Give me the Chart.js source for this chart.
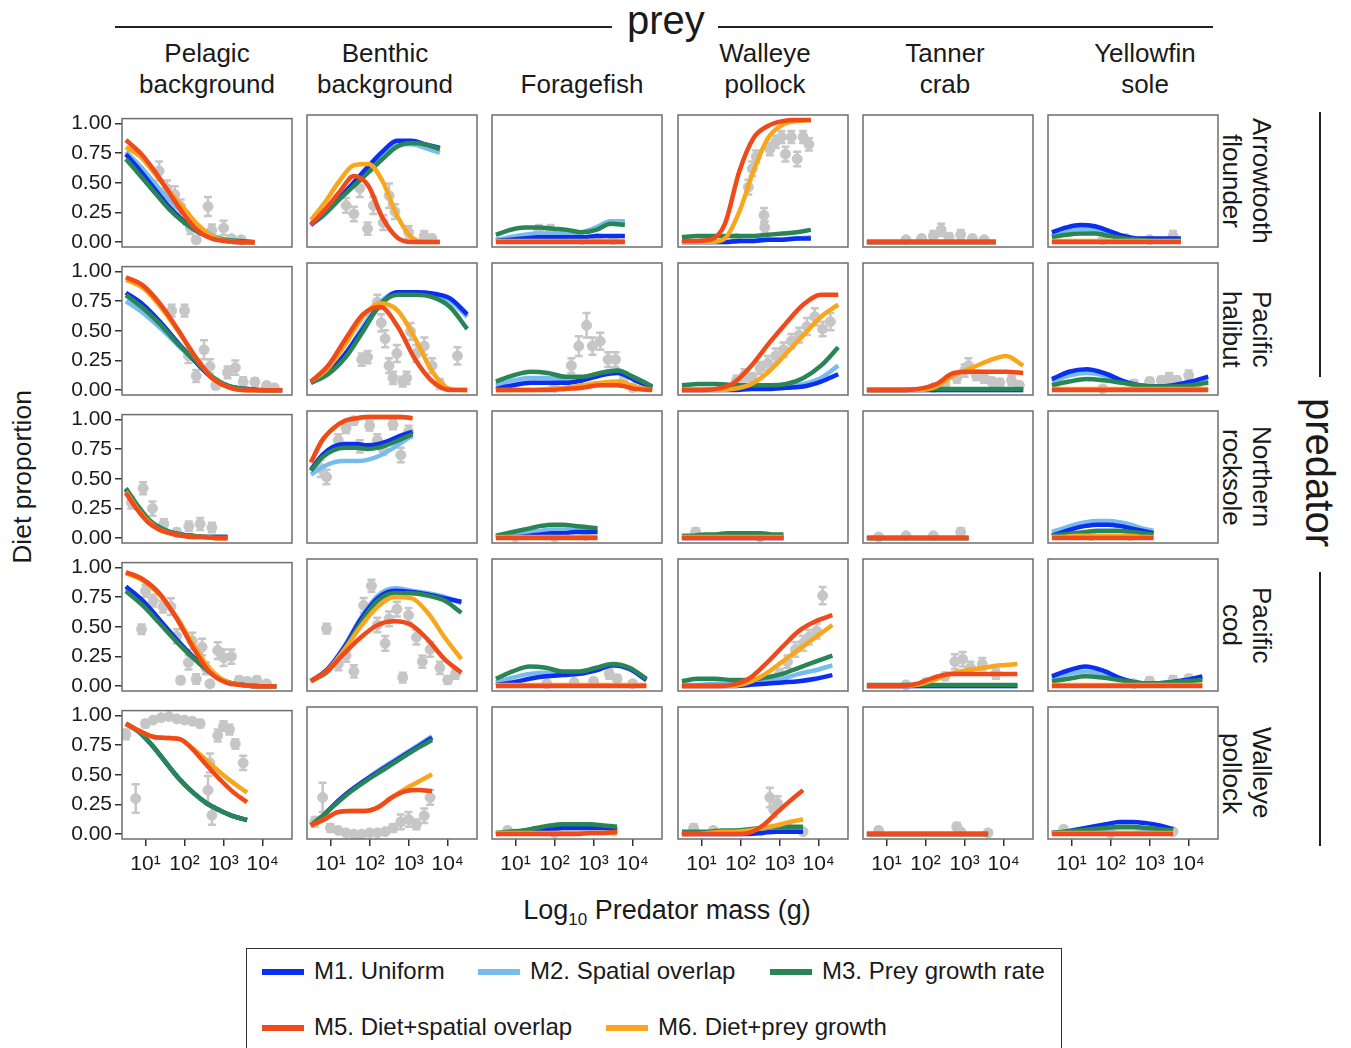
<!DOCTYPE html>
<html>
<head>
<meta charset="utf-8">
<script src="https://cdn.jsdelivr.net/npm/chart.js@4.4.1/dist/chart.umd.min.js"></script>
<style>
body { margin: 0; background: #fff; font-family: "Liberation Sans", Arial, sans-serif; color: #1a1a1a; }
#page { position: relative; width: 1351px; height: 1048px; overflow: hidden; }
.panel { position: absolute; }
.coltitle { position: absolute; top: 34px; height: 66px; width: 220px; display: flex; flex-direction: column; justify-content: flex-end; align-items: center; font-size: 26px; line-height: 31px; }
.rowtitle { position: absolute; writing-mode: vertical-rl; text-align: center; font-size: 26px; line-height: 30px; width: 60px; height: 132px; }
.hline { position: absolute; height: 2px; background: #222; }
.vline { position: absolute; width: 2px; background: #222; }
.big { position: absolute; font-size: 40px; line-height: 40px; }
.legend { position: absolute; left: 246px; top: 948px; width: 814px; height: 120px; border: 1.5px solid #333; }
.lg { position: absolute; font-size: 24px; line-height: 26px; white-space: nowrap; }
.sw { position: absolute; width: 42px; height: 6px; }
</style>
</head>
<body>
<div id="page"></div>
<script>
// facet names
var preyNames = [['Pelagic', 'background'], ['Benthic', 'background'], ['Foragefish'], ['Walleye', 'pollock'], ['Tanner', 'crab'], ['Yellowfin', 'sole']];
var predatorNames = [['Arrowtooth', 'flounder'], ['Pacific', 'halibut'], ['Northern', 'rocksole'], ['Pacific', 'cod'], ['Walleye', 'pollock']];

// log10 predator mass at which the model curves are read, one grid per predator
var massGrid = [
    [0.5, 0.87, 1.23, 1.6, 1.97, 2.33, 2.7, 3.07, 3.43, 3.8],
    [0.5, 0.94, 1.39, 1.83, 2.28, 2.72, 3.17, 3.61, 4.06, 4.5],
    [0.5, 0.79, 1.08, 1.37, 1.66, 1.94, 2.23, 2.52, 2.81, 3.1],
    [0.5, 0.93, 1.36, 1.78, 2.21, 2.64, 3.07, 3.49, 3.92, 4.35],
    [0.5, 0.84, 1.19, 1.53, 1.88, 2.22, 2.57, 2.91, 3.26, 3.6]
];

var xTickValues = [1, 2, 3, 4];
var xTickLabels = ['10¹', '10²', '10³', '10⁴'];
var yTickValues = [0, 0.25, 0.5, 0.75, 1];

var Z = [0, 0, 0, 0, 0, 0, 0, 0, 0, 0];
var L = [0.01, 0.01, 0.01, 0.01, 0.01, 0.01, 0.01, 0.01, 0.01, 0.01];

// M1. Uniform  [predator][prey]
var m1Uniform = [
    [[0.74,0.6,0.45,0.3,0.18,0.09,0.04,0.01,0,0], [0.14,0.24,0.36,0.49,0.62,0.74,0.83,0.83,0.8,0.77], [0.01,0.02,0.03,0.04,0.04,0.04,0.04,0.05,0.05,0.05], [0,0,0,0,0.01,0.01,0.02,0.02,0.03,0.03], Z, [0.08,0.12,0.14,0.13,0.09,0.05,0.03,0.03,0.03,0.03]],
    [[0.82,0.72,0.57,0.4,0.24,0.1,0.03,0.01,0,0], [0.06,0.14,0.3,0.5,0.7,0.8,0.8,0.79,0.75,0.62], [0.01,0.04,0.06,0.06,0.06,0.08,0.12,0.14,0.08,0.02], [0,0,0,0,0.01,0.01,0.02,0.03,0.07,0.13], Z, [0.09,0.15,0.17,0.14,0.08,0.04,0.03,0.04,0.07,0.11]],
    [[0.41,0.27,0.15,0.08,0.05,0.03,0.02,0.01,0.01,0.01], [0.56,0.68,0.75,0.77,0.77,0.76,0.77,0.8,0.84,0.87], [0,0.01,0.01,0.02,0.03,0.04,0.04,0.05,0.05,0.05], Z, Z, [0.02,0.05,0.08,0.1,0.11,0.11,0.1,0.08,0.06,0.04]],
    [[0.84,0.72,0.56,0.4,0.25,0.12,0.04,0.01,0,0], [0.04,0.14,0.32,0.55,0.72,0.78,0.77,0.75,0.72,0.69], [0.01,0.03,0.06,0.08,0.09,0.1,0.13,0.17,0.14,0.05], [0,0,0,0,0.01,0.02,0.03,0.04,0.06,0.09], Z, [0.08,0.13,0.16,0.13,0.07,0.03,0.02,0.03,0.05,0.08]],
    [[0.93,0.86,0.74,0.6,0.46,0.35,0.26,0.2,0.15,0.12], [0.07,0.16,0.27,0.36,0.44,0.51,0.58,0.65,0.72,0.79], [0,0.01,0.02,0.03,0.04,0.05,0.05,0.05,0.05,0.04], [0,0,0,0,0,0,0.01,0.02,0.02,0.02], Z, [0.01,0.02,0.04,0.06,0.08,0.1,0.1,0.09,0.07,0.04]]
];

// M2. Spatial overlap
var m2Spatial = [
    [[0.76,0.64,0.5,0.36,0.24,0.14,0.06,0.02,0.01,0], [0.14,0.23,0.35,0.48,0.61,0.72,0.8,0.8,0.77,0.73], [0.02,0.04,0.06,0.07,0.07,0.07,0.08,0.12,0.17,0.17], [0,0,0,0,0.01,0.01,0.02,0.02,0.03,0.04], Z, [0.05,0.09,0.11,0.1,0.07,0.04,0.02,0.02,0.02,0.02]],
    [[0.75,0.65,0.52,0.38,0.24,0.1,0.03,0.01,0,0], [0.06,0.14,0.3,0.52,0.72,0.8,0.8,0.78,0.73,0.6], [0.04,0.08,0.1,0.1,0.09,0.1,0.14,0.16,0.1,0.03], [0,0,0.01,0.01,0.02,0.02,0.03,0.05,0.1,0.2], Z, [0.07,0.12,0.14,0.12,0.07,0.04,0.03,0.03,0.05,0.08]],
    [[0.41,0.27,0.15,0.08,0.05,0.03,0.02,0.01,0.01,0.01], [0.52,0.58,0.62,0.63,0.63,0.64,0.67,0.72,0.78,0.84], [0.01,0.02,0.03,0.05,0.06,0.07,0.07,0.07,0.07,0.06], L, Z, [0.05,0.08,0.11,0.13,0.14,0.14,0.13,0.11,0.08,0.06]],
    [[0.82,0.7,0.55,0.4,0.25,0.12,0.04,0.01,0,0], [0.04,0.14,0.33,0.56,0.74,0.8,0.78,0.76,0.73,0.68], [0.03,0.07,0.1,0.11,0.11,0.11,0.14,0.17,0.14,0.06], [0.01,0.01,0.02,0.02,0.03,0.04,0.06,0.1,0.13,0.17], Z, [0.06,0.1,0.12,0.1,0.06,0.03,0.02,0.03,0.04,0.06]],
    [[0.93,0.86,0.74,0.6,0.46,0.35,0.26,0.2,0.15,0.12], [0.07,0.16,0.27,0.36,0.44,0.52,0.59,0.66,0.73,0.8], [0.01,0.01,0.02,0.03,0.04,0.05,0.05,0.05,0.05,0.04], [0.01,0.01,0.01,0.01,0.02,0.02,0.03,0.04,0.04,0.04], Z, [0.01,0.01,0.02,0.03,0.04,0.05,0.05,0.04,0.03,0.02]]
];

// M3. Prey growth rate
var m3Growth = [
    [[0.7,0.56,0.42,0.28,0.17,0.09,0.04,0.02,0.01,0], [0.15,0.24,0.35,0.46,0.57,0.68,0.78,0.81,0.8,0.76], [0.06,0.1,0.12,0.12,0.11,0.1,0.08,0.1,0.15,0.14], [0.04,0.05,0.05,0.05,0.05,0.05,0.06,0.07,0.08,0.1], Z, [0.04,0.06,0.07,0.07,0.05,0.03,0.02,0.01,0.01,0.01]],
    [[0.8,0.69,0.55,0.39,0.25,0.11,0.03,0.01,0,0], [0.06,0.13,0.27,0.48,0.7,0.78,0.78,0.76,0.68,0.5], [0.07,0.12,0.15,0.14,0.11,0.11,0.14,0.16,0.1,0.03], [0.04,0.05,0.05,0.04,0.04,0.04,0.05,0.1,0.2,0.35], [0,0,0,0.01,0.01,0.01,0.01,0.01,0.01,0.01], [0.04,0.07,0.09,0.08,0.06,0.04,0.03,0.03,0.04,0.06]],
    [[0.42,0.28,0.16,0.09,0.05,0.03,0.02,0.01,0.01,0.01], [0.55,0.66,0.72,0.74,0.74,0.73,0.74,0.77,0.81,0.85], [0.02,0.04,0.06,0.08,0.1,0.11,0.11,0.1,0.09,0.08], [0.02,0.02,0.03,0.03,0.04,0.04,0.04,0.04,0.03,0.03], Z, [0.02,0.03,0.04,0.05,0.06,0.06,0.06,0.05,0.04,0.03]],
    [[0.8,0.68,0.53,0.38,0.24,0.12,0.04,0.01,0,0], [0.04,0.12,0.3,0.52,0.7,0.76,0.76,0.74,0.7,0.6], [0.06,0.12,0.16,0.15,0.12,0.12,0.15,0.18,0.15,0.06], [0.04,0.06,0.06,0.05,0.05,0.07,0.1,0.15,0.2,0.25], L, [0.04,0.06,0.08,0.07,0.05,0.03,0.02,0.03,0.04,0.05]],
    [[0.93,0.86,0.74,0.6,0.46,0.35,0.26,0.2,0.15,0.12], [0.07,0.16,0.26,0.35,0.43,0.5,0.57,0.64,0.71,0.77], [0.01,0.02,0.03,0.05,0.07,0.08,0.08,0.08,0.07,0.06], [0.02,0.02,0.02,0.03,0.03,0.04,0.05,0.06,0.06,0.06], Z, [0.01,0.02,0.03,0.04,0.05,0.06,0.06,0.05,0.04,0.03]]
];

// M5. Diet+spatial overlap
var m5DietSpatial = [
    [[0.86,0.75,0.6,0.42,0.24,0.1,0.03,0.01,0,0], [0.14,0.27,0.41,0.54,0.46,0.2,0.04,0,0,0], Z, [0.01,0.01,0.02,0.15,0.58,0.85,0.95,0.99,1.0,1.0], Z, Z],
    [[0.95,0.88,0.72,0.51,0.28,0.1,0.02,0,0,0], [0.07,0.2,0.42,0.62,0.68,0.52,0.25,0.07,0,0], [0,0,0,0,0.01,0.02,0.04,0.04,0.01,0], [0,0,0.01,0.06,0.2,0.38,0.55,0.7,0.78,0.78], [0,0,0,0.01,0.05,0.14,0.15,0.15,0.15,0.14], Z],
    [[0.38,0.24,0.13,0.07,0.04,0.02,0.01,0.01,0,0], [0.62,0.8,0.9,0.96,0.98,0.99,0.99,0.99,0.99,0.98], Z, Z, Z, Z],
    [[0.96,0.9,0.78,0.58,0.33,0.12,0.03,0.01,0,0], [0.04,0.13,0.27,0.4,0.5,0.53,0.5,0.38,0.22,0.11], Z, [0,0,0,0.01,0.06,0.18,0.32,0.45,0.53,0.58], [0,0,0,0.02,0.07,0.1,0.1,0.1,0.1,0.1], Z],
    [[0.93,0.87,0.82,0.81,0.8,0.71,0.58,0.46,0.35,0.27], [0.07,0.12,0.18,0.19,0.19,0.22,0.3,0.35,0.36,0.35], [0,0,0,0,0,0,0,0.01,0.01,0.02], [0,0,0,0,0,0.01,0.07,0.17,0.27,0.36], Z, Z]
];

// M6. Diet+prey growth
var m6DietGrowth = [
    [[0.8,0.72,0.58,0.43,0.29,0.15,0.05,0.01,0,0], [0.18,0.33,0.5,0.63,0.64,0.5,0.22,0.04,0,0], L, [0,0,0,0.03,0.25,0.58,0.85,0.96,0.99,1.0], Z, L],
    [[0.93,0.86,0.7,0.5,0.28,0.1,0.02,0,0,0], [0.07,0.18,0.38,0.6,0.71,0.65,0.42,0.15,0.01,0], [0,0,0,0.01,0.02,0.04,0.06,0.07,0.03,0], [0,0,0,0.01,0.05,0.15,0.3,0.45,0.6,0.7], [0,0,0,0,0.03,0.12,0.18,0.24,0.28,0.2], L],
    [[0.39,0.25,0.14,0.07,0.04,0.02,0.01,0.01,0,0], [0.62,0.8,0.9,0.96,0.98,0.99,0.99,0.99,0.99,0.98], L, L, Z, [0.01,0.01,0.02,0.02,0.02,0.02,0.02,0.02,0.01,0.01]],
    [[0.95,0.89,0.77,0.59,0.36,0.15,0.04,0.01,0,0], [0.04,0.13,0.3,0.49,0.65,0.73,0.72,0.6,0.4,0.22], L, [0,0,0,0,0.03,0.1,0.2,0.3,0.4,0.5], [0,0,0,0.01,0.05,0.1,0.13,0.15,0.17,0.18], L],
    [[0.93,0.87,0.82,0.81,0.8,0.72,0.62,0.52,0.43,0.35], [0.07,0.12,0.18,0.19,0.19,0.22,0.3,0.37,0.43,0.49], L, [0,0,0.01,0.02,0.02,0.03,0.05,0.07,0.1,0.12], Z, L]
];

// observed diet proportions: [log10 mass, proportion, error]
var observed = [
    [
        [[1.35,0.6,0.08],[1.55,0.45,0.07],[1.75,0.4,0.07],[1.9,0.3,0.06],[2.05,0.2,0.05],[2.15,0.12,0.05],[2.3,0.02,0.03],[2.6,0.3,0.08],[2.7,0.1,0.05],[3.0,0.12,0.06],[3.2,0.03,0.02],[3.45,0.02,0.02]],
        [[1.4,0.3,0.06],[1.6,0.23,0.06],[1.75,0.44,0.07],[1.95,0.11,0.05],[2.1,0.3,0.07],[2.35,0.16,0.06],[2.5,0.38,0.1],[2.65,0.25,0.06],[3.0,0.08,0.05],[3.4,0.05,0.04],[3.6,0.03,0.02]],
        [[1.6,0.1,0.04],[1.9,0.1,0.04],[2.3,0.03,0.02],[2.7,0.02,0.02],[3.1,0.03,0.02],[3.5,0.02,0.02]],
        [[1.9,0.03,0.02],[2.2,0.45,0.06],[2.3,0.6,0.06],[2.4,0.7,0.05],[2.6,0.22,0.06],[2.62,0.12,0.05],[2.75,0.76,0.05],[2.9,0.82,0.05],[3.05,0.86,0.05],[3.15,0.72,0.06],[3.3,0.86,0.05],[3.45,0.68,0.06],[3.6,0.86,0.05],[3.75,0.8,0.05]],
        [[1.5,0.02,0.02],[1.9,0.03,0.02],[2.2,0.05,0.04],[2.4,0.1,0.05],[2.6,0.04,0.03],[2.9,0.06,0.04],[3.2,0.03,0.02],[3.5,0.02,0.02]],
        [[1.8,0.02,0.02],[2.4,0.03,0.02],[3.0,0.02,0.02],[3.6,0.05,0.04]]
    ],
    [
        [[1.67,0.67,0.05],[2.0,0.67,0.05],[2.1,0.29,0.06],[2.3,0.12,0.05],[2.5,0.34,0.08],[2.65,0.2,0.06],[2.8,0.04,0.03],[3.1,0.15,0.05],[3.3,0.19,0.06],[3.5,0.07,0.04],[3.8,0.07,0.03],[4.1,0.04,0.02],[4.3,0.02,0.02]],
        [[1.8,0.25,0.05],[1.95,0.27,0.05],[2.2,0.72,0.06],[2.3,0.55,0.07],[2.4,0.42,0.07],[2.5,0.2,0.06],[2.6,0.1,0.05],[2.7,0.3,0.07],[2.85,0.07,0.04],[2.95,0.1,0.05],[3.05,0.48,0.07],[3.2,0.3,0.07],[3.4,0.36,0.07],[3.6,0.2,0.06],[3.8,0.05,0.04],[4.25,0.28,0.07]],
        [[2.0,0.02,0.02],[2.43,0.2,0.06],[2.62,0.36,0.08],[2.82,0.53,0.1],[2.97,0.36,0.07],[3.17,0.4,0.07],[3.37,0.25,0.06],[3.56,0.25,0.06],[3.76,0.07,0.04],[4.0,0.02,0.02]],
        [[1.9,0.08,0.04],[2.1,0.12,0.05],[2.3,0.1,0.04],[2.5,0.18,0.05],[2.7,0.22,0.06],[2.9,0.28,0.06],[3.1,0.33,0.06],[3.3,0.4,0.06],[3.5,0.45,0.06],[3.7,0.52,0.07],[3.9,0.6,0.07],[4.1,0.5,0.06],[4.3,0.56,0.07]],
        [[2.2,0.02,0.02],[2.5,0.05,0.03],[2.8,0.1,0.04],[3.0,0.16,0.05],[3.1,0.2,0.06],[3.3,0.12,0.04],[3.5,0.1,0.04],[3.7,0.07,0.03],[3.9,0.06,0.03],[4.2,0.08,0.04],[4.4,0.04,0.02]],
        [[1.8,0.01,0.01],[2.6,0.05,0.03],[3.0,0.07,0.03],[3.3,0.08,0.03],[3.5,0.1,0.04],[3.7,0.08,0.03],[4.0,0.12,0.04],[4.2,0.05,0.03]]
    ],
    [
        [[0.64,0.3,0.05],[0.94,0.42,0.05],[1.18,0.25,0.06],[1.47,0.12,0.04],[1.8,0.05,0.03],[2.11,0.1,0.04],[2.4,0.12,0.05],[2.7,0.09,0.04]],
        [[0.75,0.57,0.07],[0.9,0.5,0.06],[1.2,0.8,0.05],[1.4,0.9,0.04],[1.6,0.96,0.03],[1.75,0.75,0.05],[2.0,0.92,0.04],[2.2,0.8,0.05],[2.35,0.73,0.05],[2.6,0.93,0.04],[2.8,0.68,0.06],[3.0,0.87,0.05]],
        [[1.0,0.01,0.01],[2.0,0.01,0.01],[2.8,0.02,0.01]],
        [[0.85,0.05,0.03],[2.5,0.01,0.01]],
        [[0.8,0.01,0.01],[1.5,0.02,0.01],[2.2,0.02,0.01],[2.9,0.05,0.03]],
        [[1.5,0.02,0.01],[2.5,0.02,0.01]]
    ],
    [
        [[0.9,0.48,0.04],[1.0,0.8,0.05],[1.2,0.72,0.05],[1.45,0.67,0.05],[1.65,0.67,0.07],[1.8,0.42,0.06],[1.9,0.05,0.03],[2.1,0.2,0.06],[2.2,0.38,0.07],[2.3,0.06,0.04],[2.45,0.33,0.07],[2.55,0.15,0.05],[2.65,0.02,0.02],[2.85,0.3,0.07],[3.0,0.24,0.07],[3.2,0.25,0.06],[3.4,0.05,0.03],[3.6,0.04,0.03],[3.85,0.05,0.03],[4.1,0.02,0.02]],
        [[0.9,0.47,0.04],[1.2,0.18,0.05],[1.4,0.25,0.05],[1.6,0.12,0.05],[1.85,0.66,0.06],[2.05,0.82,0.05],[2.2,0.5,0.06],[2.4,0.35,0.06],[2.5,0.55,0.06],[2.7,0.63,0.06],[2.85,0.07,0.04],[3.0,0.58,0.06],[3.2,0.4,0.06],[3.35,0.2,0.05],[3.55,0.3,0.06],[3.8,0.15,0.05],[4.0,0.05,0.03],[4.2,0.1,0.04]],
        [[1.8,0.02,0.02],[2.5,0.03,0.02],[3.0,0.04,0.02],[3.4,0.1,0.04],[3.6,0.06,0.03],[4.0,0.02,0.02]],
        [[2.6,0.05,0.03],[3.0,0.1,0.04],[3.2,0.2,0.05],[3.4,0.3,0.06],[3.6,0.35,0.06],[3.75,0.4,0.06],[3.95,0.45,0.06],[4.1,0.74,0.07]],
        [[1.5,0.01,0.01],[2.0,0.03,0.02],[2.5,0.08,0.03],[2.75,0.2,0.06],[2.95,0.22,0.06],[3.15,0.15,0.05],[3.45,0.18,0.05],[3.8,0.1,0.04]],
        [[2.6,0.02,0.02],[3.0,0.04,0.03],[3.6,0.05,0.03],[4.0,0.06,0.03]]
    ],
    [
        [[0.5,0.84,0.04],[0.75,0.3,0.12],[1.0,0.93,0.03],[1.2,0.96,0.02],[1.4,0.98,0.02],[1.6,0.99,0.02],[1.8,0.97,0.02],[2.0,0.96,0.02],[2.2,0.95,0.02],[2.4,0.93,0.03],[2.6,0.37,0.12],[2.65,0.6,0.08],[2.7,0.16,0.08],[2.85,0.83,0.05],[3.0,0.91,0.04],[3.15,0.88,0.04],[3.3,0.76,0.04],[3.5,0.6,0.06]],
        [[0.6,0.1,0.04],[0.8,0.3,0.12],[1.0,0.05,0.03],[1.2,0.03,0.02],[1.4,0.01,0.01],[1.6,0,0.01],[1.8,0,0.01],[2.0,0.01,0.01],[2.2,0.01,0.01],[2.4,0.02,0.01],[2.6,0.05,0.03],[2.8,0.1,0.06],[3.0,0.12,0.06],[3.2,0.08,0.04],[3.4,0.15,0.06],[3.55,0.3,0.06]],
        [[0.8,0.03,0.02],[2.0,0.01,0.01],[3.5,0.03,0.02]],
        [[0.8,0.05,0.03],[1.3,0.03,0.02],[2.75,0.3,0.08],[2.85,0.2,0.06],[2.95,0.25,0.06],[3.2,0.05,0.03],[3.6,0.02,0.02]],
        [[0.8,0.03,0.02],[2.8,0.06,0.03],[2.9,0.02,0.02],[3.6,0.01,0.01]],
        [[0.8,0.04,0.02],[2.0,0.01,0.01],[3.6,0.02,0.02]]
    ]
];

var models = [
    { label: 'M1. Uniform', values: m1Uniform, color: '#0b2ff0', order: 4 },
    { label: 'M2. Spatial overlap', values: m2Spatial, color: '#78bcee', order: 5 },
    { label: 'M3. Prey growth rate', values: m3Growth, color: '#2a8556', order: 3 },
    { label: 'M5. Diet+spatial overlap', values: m5DietSpatial, color: '#f04a1a', order: 1 },
    { label: 'M6. Diet+prey growth', values: m6DietGrowth, color: '#f8a61e', order: 2 }
];
var obsColor = '#c6c6c6';

// layout of the panel grid
var colLeft = [122, 307, 492, 678, 863, 1048];
var rowTop = [115, 263, 411, 559, 707];
var panelW = 170, panelH = 132;
var titleShift = [0, -7, 5, 2, -3, 12];

Chart.defaults.font.family = '"Liberation Sans", Arial, sans-serif';
Chart.defaults.color = '#1a1a1a';

var page = document.getElementById('page');

function addDiv(cls, css, html) {
    var d = document.createElement('div');
    d.className = cls;
    d.style.cssText = css;
    d.innerHTML = html;
    page.appendChild(d);
    return d;
}

// draws the box around every panel
var frame = {
    id: 'frame',
    afterDraw: function (chart) {
        var a = chart.chartArea, ctx = chart.ctx;
        ctx.save();
        ctx.strokeStyle = '#6e6e6e';
        ctx.lineWidth = 1.5;
        ctx.strokeRect(a.left, a.top, a.right - a.left, a.bottom - a.top);
        ctx.restore();
    }
};

// vertical error bars with caps for the observed points
var errorBars = {
    id: 'errorBars',
    beforeDatasetsDraw: function (chart) {
        var xs = chart.scales.x, ys = chart.scales.y, ctx = chart.ctx;
        chart.data.datasets.forEach(function (ds) {
            if (!ds.errs) return;
            ctx.save();
            ctx.strokeStyle = obsColor;
            ctx.lineWidth = 2.5;
            ds.data.forEach(function (p, j) {
                var px = xs.getPixelForValue(p.x);
                var lo = ys.getPixelForValue(Math.max(p.y - ds.errs[j], 0));
                var hi = ys.getPixelForValue(p.y + ds.errs[j]);
                ctx.beginPath();
                ctx.moveTo(px, lo); ctx.lineTo(px, hi);
                ctx.moveTo(px - 4, lo); ctx.lineTo(px + 4, lo);
                ctx.moveTo(px - 4, hi); ctx.lineTo(px + 4, hi);
                ctx.stroke();
            });
            ctx.restore();
        });
    }
};

function makePanel(r, c) {
    var showY = c === 0, showX = r === 4;
    var canvas = document.createElement('canvas');
    canvas.className = 'panel';
    canvas.width = panelW + 82;
    canvas.height = panelH + 62;
    canvas.style.left = (colLeft[c] - 70) + 'px';
    canvas.style.top = (rowTop[r] - 12) + 'px';
    page.appendChild(canvas);

    var datasets = models.map(function (m) {
        return {
            label: m.label,
            data: massGrid[r].map(function (x, k) { return { x: x, y: m.values[r][c][k] }; }),
            borderColor: m.color,
            borderWidth: 4.5,
            pointRadius: 0,
            fill: false,
            cubicInterpolationMode: 'monotone',
            order: m.order
        };
    });
    var obs = observed[r][c];
    datasets.push({
        label: 'observed',
        data: obs.map(function (p) { return { x: p[0], y: p[1] }; }),
        errs: obs.map(function (p) { return p[2]; }),
        showLine: false,
        pointRadius: 5,
        pointBackgroundColor: obsColor,
        pointBorderColor: obsColor,
        order: 6
    });

    var tickGrid = { display: true, drawOnChartArea: false, drawTicks: true, tickLength: 7, color: '#333', lineWidth: 1.5 };

    new Chart(canvas, {
        type: 'line',
        data: { datasets: datasets },
        options: {
            responsive: false,
            animation: false,
            events: [],
            layout: { padding: { left: showY ? 8 : 70, right: 12, top: 12, bottom: showX ? 5 : 50 } },
            plugins: { legend: { display: false }, tooltip: { enabled: false } },
            scales: {
                x: {
                    type: 'linear', min: 0.4, max: 4.75,
                    display: showX,
                    border: { display: false },
                    grid: tickGrid,
                    afterBuildTicks: function (axis) { axis.ticks = xTickValues.map(function (v) { return { value: v }; }); },
                    afterFit: function (axis) { if (showX) axis.height = 45; },
                    ticks: {
                        autoSkip: false, padding: 6, maxRotation: 0, font: { size: 21 }, color: '#1a1a1a',
                        callback: function (v) { return xTickLabels[xTickValues.indexOf(v)]; }
                    }
                },
                y: {
                    min: -0.04, max: 1.04,
                    display: showY,
                    border: { display: false },
                    grid: tickGrid,
                    afterBuildTicks: function (axis) { axis.ticks = yTickValues.map(function (v) { return { value: v }; }); },
                    afterFit: function (axis) { if (showY) axis.width = 62; },
                    ticks: {
                        autoSkip: false, padding: 3, font: { size: 21 }, color: '#1a1a1a',
                        callback: function (v) { return v.toFixed(2); }
                    }
                }
            }
        },
        plugins: [frame, errorBars]
    });
}

// titles around the grid
addDiv('hline', 'left:115px;top:26px;width:497px;', '');
addDiv('hline', 'left:718px;top:26px;width:495px;', '');
addDiv('big', 'left:627px;top:0px;', 'prey');
preyNames.forEach(function (n, c) {
    addDiv('coltitle', 'left:' + (colLeft[c] + panelW / 2 - 110 + titleShift[c]) + 'px;', n.map(function (s) { return '<div>' + s + '</div>'; }).join(''));
});
predatorNames.forEach(function (n, r) {
    addDiv('rowtitle', 'left:1217px;top:' + rowTop[r] + 'px;', n.join('<br>'));
});
addDiv('vline', 'left:1319px;top:112px;height:265px;', '');
addDiv('vline', 'left:1319px;top:572px;height:274px;', '');
addDiv('big', 'left:1300px;top:398px;writing-mode:vertical-rl;', 'predator');
addDiv('big', 'left:8px;top:390px;font-size:26.5px;line-height:28px;writing-mode:vertical-rl;transform:rotate(180deg);', 'Diet proportion');
addDiv('big', 'left:467px;width:400px;text-align:center;top:895px;font-size:27px;line-height:30px;', 'Log<sub style="font-size:17px;">10</sub> Predator mass (g)');

for (var r = 0; r < rowTop.length; r++) {
    for (var c = 0; c < colLeft.length; c++) {
        makePanel(r, c);
    }
}

// legend
addDiv('legend', '', '');
var legendPos = [[262, 972], [478, 972], [770, 972], [262, 1028], [606, 1028]];
models.forEach(function (m, i) {
    var p = legendPos[i];
    addDiv('sw', 'left:' + p[0] + 'px;top:' + (p[1] - 3) + 'px;background:' + m.color + ';', '');
    addDiv('lg', 'left:' + (p[0] + 52) + 'px;top:' + (p[1] - 14) + 'px;', m.label);
});
</script>
</body>
</html>
